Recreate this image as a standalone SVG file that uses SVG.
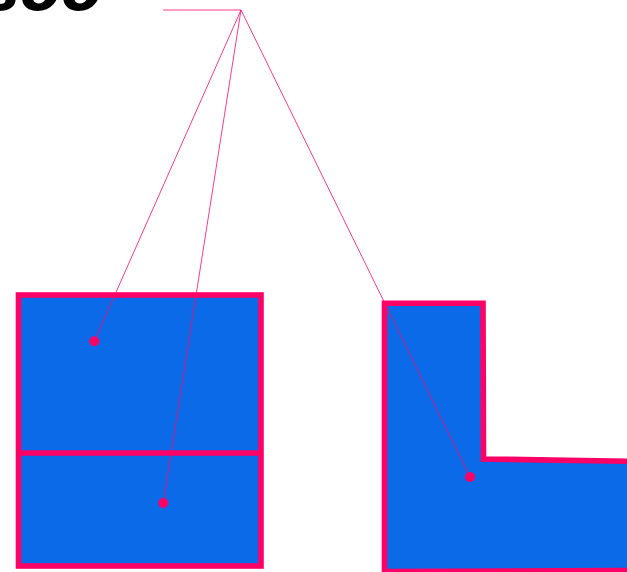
<svg xmlns="http://www.w3.org/2000/svg" width="627" height="572" viewBox="0 0 627 572">
  <style>
    .shape { fill: #0b6ae8; stroke: #ff0066; stroke-width: 5.6; stroke-linejoin: miter; }
    .lead { fill: none; stroke: #ff0a6c; stroke-width: 0.8; }
    .dot { fill: #ff0066; }
    .title { font-family: "DejaVu Sans", sans-serif; font-weight: bold; font-style: italic; font-size: 60px; fill: #000; }
  </style>
  <rect width="627" height="572" fill="#ffffff"/>
  <text class="title" x="-16" y="10">soo</text>
  <g id="node-left">
    <rect class="shape" x="18.5" y="295" width="242.5" height="271"/>
    <line x1="18.5" y1="453" x2="261" y2="453" stroke="#ff0066" stroke-width="5.6"/>
  </g>
  <g id="node-right">
    <path class="shape" d="M384.5,303.3 L483,303.3 L483.5,459 L640,461.5 L640,570.5 L384.5,571.5 Z"/>
  </g>
  <g id="connectors">
    <line class="lead" x1="163" y1="10" x2="241" y2="10"/>
    <line class="lead" x1="241" y1="10" x2="94.3" y2="341.3"/>
    <line class="lead" x1="241" y1="10" x2="163.3" y2="503"/>
    <line class="lead" x1="241" y1="10" x2="470" y2="477"/>
    <circle class="dot" cx="94.3" cy="341.3" r="5"/>
    <circle class="dot" cx="163.3" cy="503" r="5"/>
    <circle class="dot" cx="470" cy="477" r="5"/>
  </g>
</svg>
